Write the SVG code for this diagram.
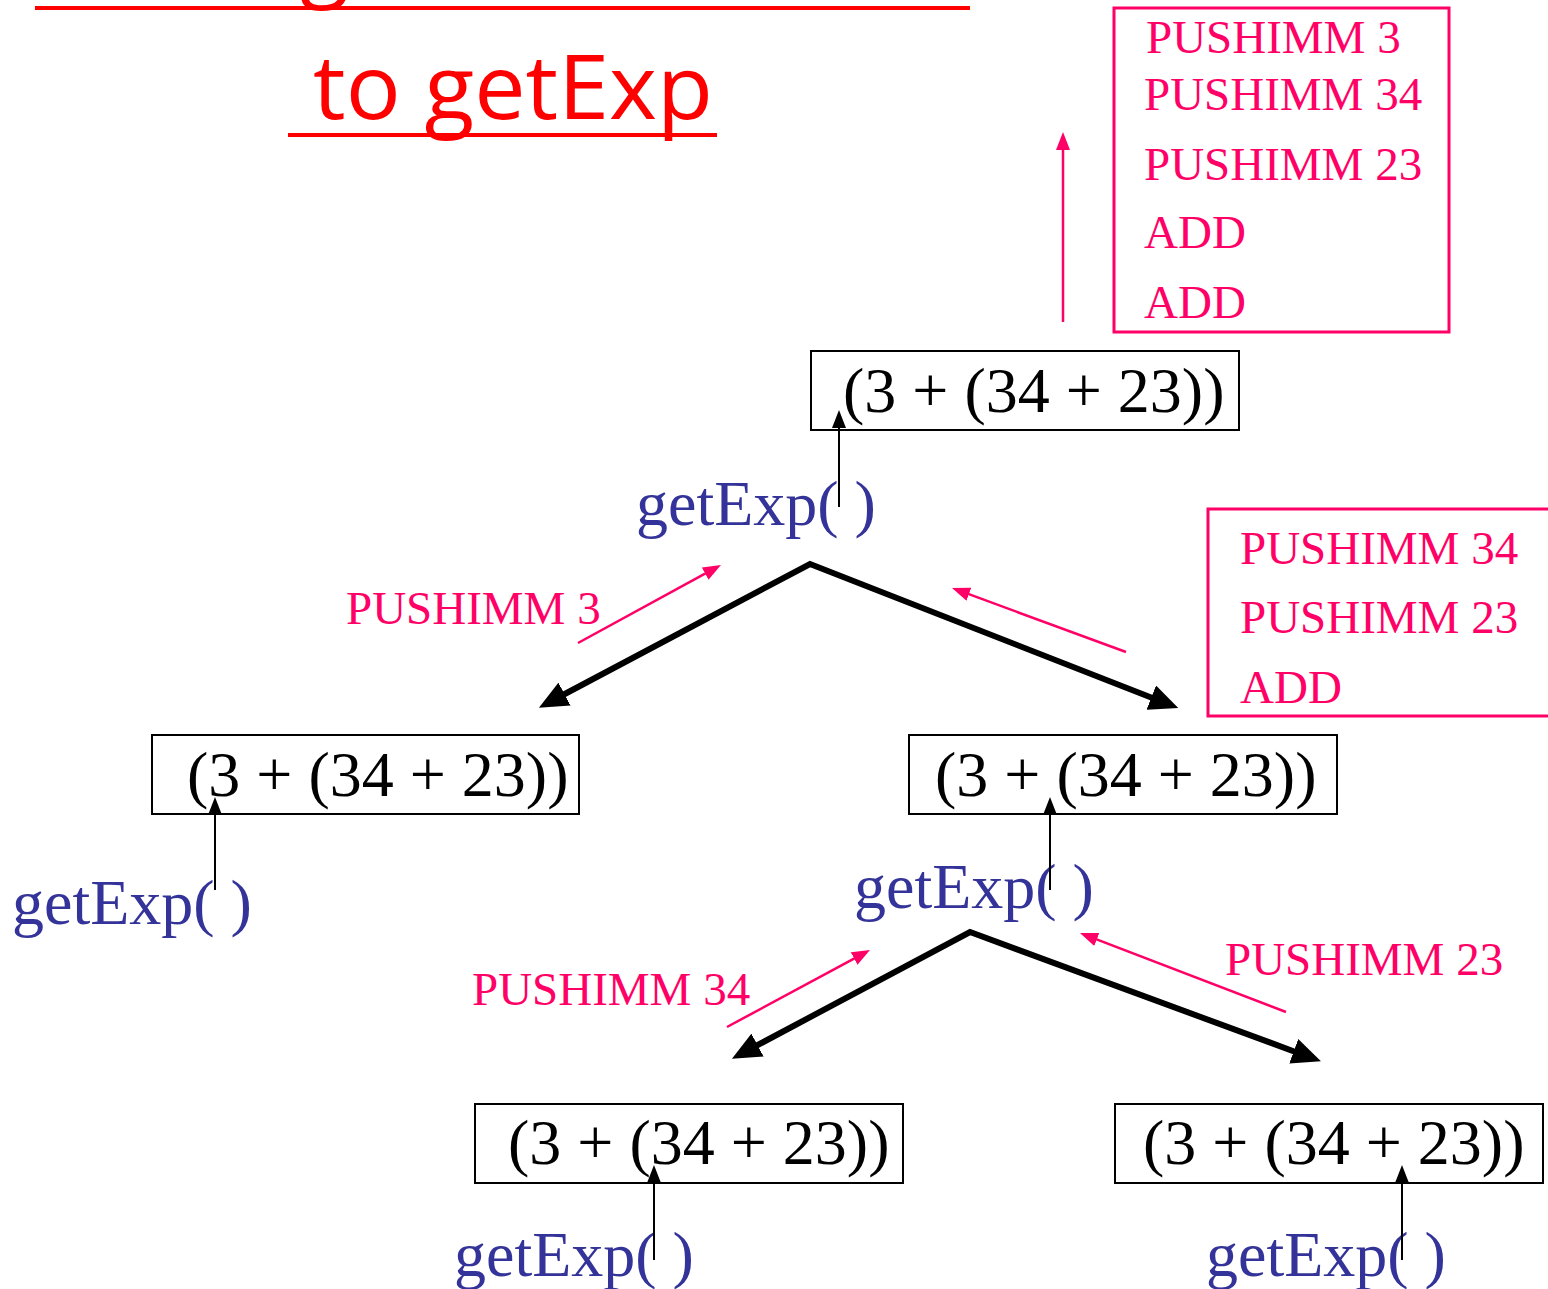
<svg xmlns="http://www.w3.org/2000/svg" width="1548" height="1289" viewBox="0 0 1548 1289">
<style>
.title{font-family:"Open Sans","Noto Sans",sans-serif;font-size:90px;fill:#FF0000}
.expr{font-family:"Liberation Serif","Times New Roman",serif;font-size:64px;fill:#000}
.call{font-family:"Liberation Serif","Times New Roman",serif;font-size:64px;fill:#333399}
.code{font-family:"Liberation Serif","Times New Roman",serif;font-size:47px;fill:#FF0066}
.box{fill:none;stroke:#000;stroke-width:2}
.pbox{fill:none;stroke:#FF0066;stroke-width:3}
.thick{fill:none;stroke:#000;stroke-width:6;stroke-linejoin:miter}
.thin{fill:none;stroke:#000;stroke-width:2}
.pink{fill:none;stroke:#FF0066;stroke-width:2.5}
</style>
<defs>
<marker id="bigHead" markerUnits="userSpaceOnUse" markerWidth="30" markerHeight="26" refX="4" refY="13" orient="auto-start-reverse">
<path d="M0,0 L29,13 L0,26 Z" fill="#000"/>
</marker>
<marker id="smallHead" markerUnits="userSpaceOnUse" markerWidth="20" markerHeight="14" refX="3" refY="7" orient="auto">
<path d="M0,0 L18,7 L0,14 Z" fill="#000"/>
</marker>
<marker id="pinkHead" markerUnits="userSpaceOnUse" markerWidth="20" markerHeight="14" refX="3" refY="7" orient="auto">
<path d="M0,0 L18,7 L0,14 Z" fill="#FF0066"/>
</marker>
</defs>

<g id="title">
<text class="title" x="300" y="-11">g</text>
<line x1="35" y1="8" x2="970" y2="8" stroke="#FF0000" stroke-width="4"/>
<text class="title" x="313" y="119" textLength="400" lengthAdjust="spacingAndGlyphs">to getExp</text>
<line x1="288" y1="135" x2="717" y2="135" stroke="#FF0000" stroke-width="4"/>
</g>

<g id="code-top">
<rect class="pbox" x="1114" y="8" width="335" height="324"/>
<text class="code" x="1146" y="53">PUSHIMM 3</text>
<text class="code" x="1144" y="110">PUSHIMM 34</text>
<text class="code" x="1144" y="180">PUSHIMM 23</text>
<text class="code" x="1144" y="248">ADD</text>
<text class="code" x="1144" y="318">ADD</text>
</g>

<g id="code-mid">
<rect class="pbox" x="1208" y="509" width="345" height="207"/>
<text class="code" x="1240" y="564">PUSHIMM 34</text>
<text class="code" x="1240" y="633">PUSHIMM 23</text>
<text class="code" x="1240" y="703">ADD</text>
</g>

<g id="node-root">
<rect class="box" x="811" y="351" width="428" height="79"/>
<text class="expr" x="843" y="412">(3 + (34 + 23))</text>
<text class="call" x="636" y="525">getExp( )</text>
</g>

<g id="node-left">
<rect class="box" x="152" y="735" width="427" height="79"/>
<text class="expr" x="187" y="796">(3 + (34 + 23))</text>
<text class="call" x="12" y="924">getExp( )</text>
</g>

<g id="node-right">
<rect class="box" x="909" y="735" width="428" height="79"/>
<text class="expr" x="935" y="796">(3 + (34 + 23))</text>
<text class="call" x="854" y="908">getExp( )</text>
</g>

<g id="node-bl">
<rect class="box" x="475" y="1104" width="428" height="79"/>
<text class="expr" x="508" y="1164">(3 + (34 + 23))</text>
<text class="call" x="454" y="1276">getExp( )</text>
</g>

<g id="node-br">
<rect class="box" x="1115" y="1104" width="428" height="79"/>
<text class="expr" x="1143" y="1164">(3 + (34 + 23))</text>
<text class="call" x="1206" y="1276">getExp( )</text>
</g>

<g id="labels">
<text class="code" x="346" y="624">PUSHIMM 3</text>
<text class="code" x="472" y="1005">PUSHIMM 34</text>
<text class="code" x="1225" y="975">PUSHIMM 23</text>
</g>

<g id="connectors">
<path class="thick" d="M561,696 L810,564 L1155,699" marker-start="url(#bigHead)" marker-end="url(#bigHead)"/>
<path class="thick" d="M754,1047 L970,932 L1297.5,1052.7" marker-start="url(#bigHead)" marker-end="url(#bigHead)"/>

<line class="pink" x1="1063" y1="322" x2="1063" y2="147" marker-end="url(#pinkHead)"/>
<line class="pink" x1="578" y1="643" x2="707.8" y2="572.2" marker-end="url(#pinkHead)"/>
<line class="pink" x1="1126" y1="652" x2="966.1" y2="593.2" marker-end="url(#pinkHead)"/>
<line class="pink" x1="727" y1="1027" x2="856.8" y2="957.1" marker-end="url(#pinkHead)"/>
<line class="pink" x1="1286" y1="1012" x2="1094" y2="938.4" marker-end="url(#pinkHead)"/>

<line class="thin" x1="839" y1="507" x2="839" y2="425" marker-end="url(#smallHead)"/>
<line class="thin" x1="215" y1="890" x2="215" y2="812" marker-end="url(#smallHead)"/>
<line class="thin" x1="1050" y1="890" x2="1050" y2="812" marker-end="url(#smallHead)"/>
<line class="thin" x1="654" y1="1260" x2="654" y2="1180" marker-end="url(#smallHead)"/>
<line class="thin" x1="1402" y1="1260" x2="1402" y2="1180" marker-end="url(#smallHead)"/>
</g>
</svg>
